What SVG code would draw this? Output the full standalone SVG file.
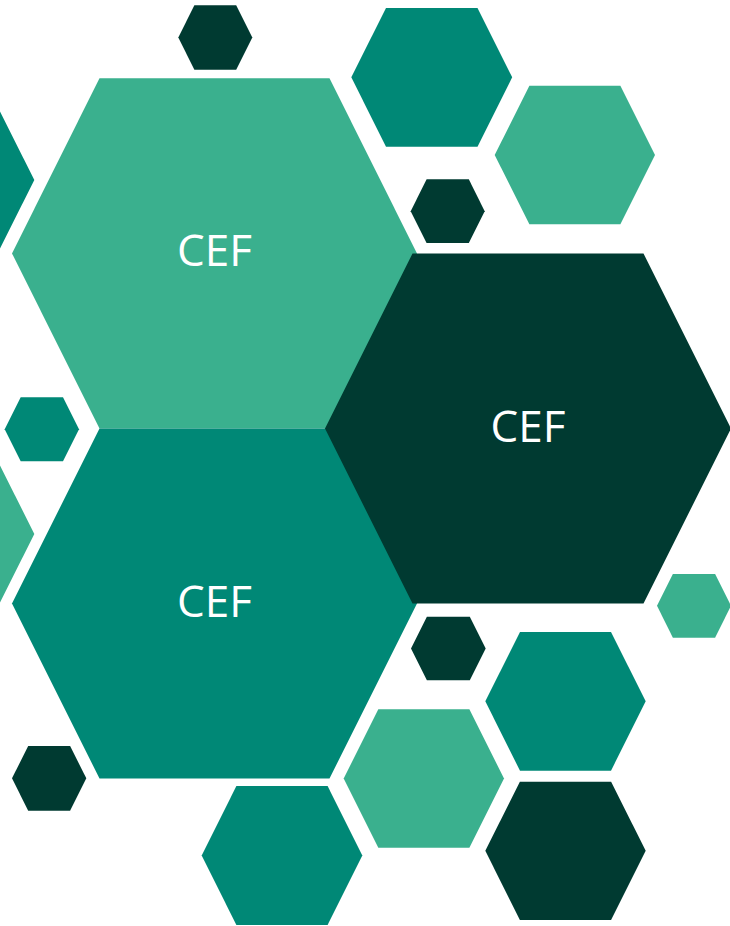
<svg xmlns="http://www.w3.org/2000/svg" width="730" height="926" viewBox="0 0 730 926">
<style>
.light{fill:#3AB08E}
.teal{fill:#008876}
.dark{fill:#003A31}
.lbl{font-family:"Open Sans","Noto Sans",sans-serif;font-size:44px;fill:#FFFFFF;text-anchor:middle}
</style>
<rect width="730" height="926" fill="#FFFFFF"/>
<g id="hex-left-top"><polygon class="teal" points="-126,180 -91.35,110.7 -0.35,110.7 34.3,180 -0.35,249.3 -91.35,249.3"/></g>
<g id="hex-left-mid"><polygon class="light" points="-126,534 -91.35,464.7 -0.35,464.7 34.3,534 -0.35,603.3 -91.35,603.3"/></g>
<g id="hex-small-top"><polygon class="dark" points="178.3,37.5 194.4,5.3 236.2,5.3 252.3,37.5 236.2,69.7 194.4,69.7"/></g>
<g id="hex-teal-top"><polygon class="teal" points="351.3,77.35 386,8 477.5,8 512.2,77.35 477.5,146.7 386,146.7"/></g>
<g id="hex-light-top-right"><polygon class="light" points="494.7,155 529.35,85.7 620.35,85.7 655,155 620.35,224.3 529.35,224.3"/></g>
<g id="hex-small-dark-mid"><polygon class="dark" points="410.7,211.15 426.6,179.3 468.8,179.3 484.7,211.15 468.8,243 426.6,243"/></g>
<g id="node-cef-1"><polygon class="light" points="12,253.4 99.5,78.3 329.5,78.3 417,253.4 329.5,428.5 99.5,428.5"/><text class="lbl" x="214.5" y="266">CEF</text></g>
<g id="node-cef-3"><polygon class="teal" points="12,603.5 99.5,428.5 329.5,428.5 417,603.5 329.5,778.5 99.5,778.5"/><text class="lbl" x="214.5" y="617">CEF</text></g>
<g id="node-cef-2"><polygon class="dark" points="325,428.5 412.5,253.5 643.5,253.5 731,428.5 643.5,603.5 412.5,603.5"/><text class="lbl" x="528" y="442">CEF</text></g>
<g id="hex-small-teal-left"><polygon class="teal" points="4.7,429.3 20.7,397.3 63,397.3 79,429.3 63,461.3 20.7,461.3"/></g>
<g id="hex-small-dark-low"><polygon class="dark" points="411,648.5 426.9,616.7 469.8,616.7 485.7,648.5 469.8,680.3 426.9,680.3"/></g>
<g id="hex-small-light-right"><polygon class="light" points="657,605.85 672.9,574 715.1,574 731,605.85 715.1,637.7 672.9,637.7"/></g>
<g id="hex-teal-low-right"><polygon class="teal" points="485.3,701.35 520,632 611,632 645.7,701.35 611,770.7 520,770.7"/></g>
<g id="hex-light-low"><polygon class="light" points="343.7,778.5 378.3,709.3 469.4,709.3 504,778.5 469.4,847.7 378.3,847.7"/></g>
<g id="hex-dark-bottom-right"><polygon class="dark" points="485.3,850.85 519.9,781.7 611.1,781.7 645.7,850.85 611.1,920 519.9,920"/></g>
<g id="hex-small-dark-bottom-left"><polygon class="dark" points="12,778.35 28.2,746 70.1,746 86.3,778.35 70.1,810.7 28.2,810.7"/></g>
<g id="hex-teal-bottom"><polygon class="teal" points="201.7,855.5 236.4,786 327.6,786 362.3,855.5 327.6,925 236.4,925"/></g>
<g id="connectors"/>
</svg>
